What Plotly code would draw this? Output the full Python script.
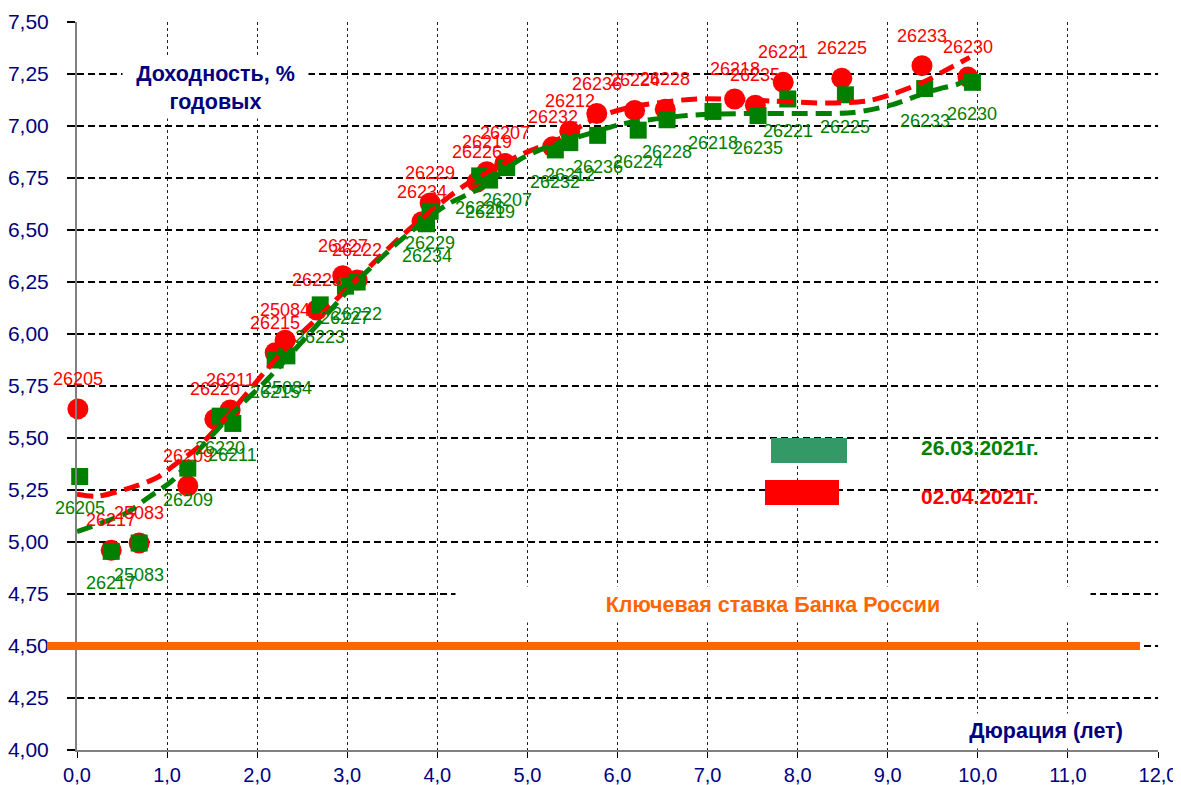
import plotly.graph_objects as go

# ---------------- data ----------------
red_names = ["26205", "26217", "25083", "26209", "26220", "26211", "26215", "25084", "26223",
             "26227", "26222", "26229", "26234", "26226", "26219", "26207", "26232", "26212",
             "26236", "26224", "26228", "26218", "26235", "26221", "26225", "26233", "26230"]
red_x = [0.01, 0.38, 0.69, 1.23, 1.53, 1.70, 2.20, 2.31, 2.66, 2.95, 3.11, 3.92, 3.83, 4.44,
         4.55, 4.75, 5.28, 5.47, 5.77, 6.19, 6.53, 7.30, 7.53, 7.84, 8.49, 9.38, 9.89]
red_y = [5.64, 4.96, 4.995, 5.27, 5.59, 5.635, 5.91, 5.97, 6.115, 6.28, 6.26, 6.63, 6.54, 6.73,
         6.78, 6.82, 6.90, 6.975, 7.06, 7.075, 7.08, 7.13, 7.10, 7.21, 7.23, 7.29, 7.235]

green_names = red_names
green_x = [0.03, 0.38, 0.69, 1.23, 1.59, 1.73, 2.20, 2.33, 2.70, 2.98, 3.11, 3.92, 3.88, 4.47,
           4.58, 4.77, 5.31, 5.47, 5.78, 6.23, 6.55, 7.06, 7.56, 7.89, 8.53, 9.41, 9.94]
green_y = [5.315, 4.955, 4.995, 5.355, 5.605, 5.57, 5.875, 5.895, 6.14, 6.23, 6.25, 6.59, 6.53,
           6.76, 6.74, 6.80, 6.885, 6.92, 6.955, 6.98, 7.03, 7.07, 7.05, 7.13, 7.15, 7.18, 7.21]

# trend lines
red_trend_x = [0.0, 0.22, 0.59, 0.89, 1.11, 1.33, 1.70, 2.25, 2.70, 3.10, 3.60, 4.10, 4.36,
               4.92, 5.36, 5.77, 6.14, 6.88, 7.73, 8.33, 8.77, 9.03, 9.39, 9.61, 9.91]
red_trend_y = [5.23, 5.22, 5.26, 5.31, 5.38, 5.45, 5.62, 5.90, 6.09, 6.26, 6.47, 6.65, 6.73,
               6.86, 6.94, 7.04, 7.09, 7.13, 7.12, 7.11, 7.12, 7.15, 7.21, 7.26, 7.33]
green_trend_x = [0.0, 0.26, 0.55, 0.78, 1.07, 1.37, 1.73, 2.11, 2.70, 3.10, 3.59, 4.10, 4.47,
                 4.92, 5.28, 5.66, 6.06, 6.77, 7.44, 8.06, 8.62, 9.03, 9.39, 9.58, 9.77, 9.90]
green_trend_y = [5.05, 5.09, 5.14, 5.21, 5.30, 5.45, 5.62, 5.78, 6.06, 6.25, 6.45, 6.62, 6.70,
                 6.84, 6.91, 6.96, 7.01, 7.05, 7.06, 7.06, 7.065, 7.10, 7.155, 7.18, 7.20, 7.23]

key_rate = 4.50

green_date = "26.03.2021г."
red_date = "02.04.2021г."
y_title = "Доходность, %<br>годовых"
x_title = "Дюрация (лет)"
key_title = "Ключевая ставка Банка России"

FONT = "Liberation Sans, Arial, sans-serif"
NAVY = "#000080"
RED = "#FF0000"
GREEN = "#008000"
ORANGE = "#FF6600"

# the page puts the figure 8px from the window's top-left corner
OFF = 8
FIG_W, FIG_H = 1181 - OFF, 785 - OFF
# plot-area geometry in window pixels -> paper helpers
L, R, T, B = 77, 1158, 22, 750


def px(xp):
    return (xp - L) / (R - L)


def py(yp):
    return (B - yp) / (B - T)


fig = go.Figure()

fig.add_trace(go.Scatter(x=red_x, y=red_y, mode="markers", cliponaxis=False,
                         marker=dict(symbol="circle", size=21, color=RED)))
fig.add_trace(go.Scatter(x=green_x, y=green_y, mode="markers", cliponaxis=False,
                         marker=dict(symbol="square", size=17, color=GREEN)))
fig.add_trace(go.Scatter(x=red_trend_x, y=red_trend_y, mode="lines",
                         line=dict(color=RED, width=5, dash="16px,8px", shape="spline",
                                   smoothing=0.8)))
fig.add_trace(go.Scatter(x=green_trend_x, y=green_trend_y, mode="lines",
                         line=dict(color=GREEN, width=5, dash="16px,8px", shape="spline",
                                   smoothing=0.8)))

annotations = []
for n, xv, yv in zip(red_names, red_x, red_y):
    annotations.append(dict(x=xv, y=yv, text=n, showarrow=False, yshift=30,
                            font=dict(family=FONT, size=18, color=RED)))
for n, xv, yv in zip(green_names, green_x, green_y):
    annotations.append(dict(x=xv, y=yv, text=n, showarrow=False, yshift=-32,
                            font=dict(family=FONT, size=18, color=GREEN)))

# titles / labels with white backgrounds
annotations.append(dict(xref="paper", yref="paper", x=px(215), y=py(88), text="<b>" + y_title + "</b>",
                        showarrow=False, bgcolor="white", width=185, height=60, borderpad=0,
                        xanchor="center", yanchor="middle",
                        font=dict(family=FONT, size=21.5, color=NAVY)))
annotations.append(dict(xref="paper", yref="paper", x=px(773), y=py(604.5), text="<b>" + key_title + "</b>",
                        showarrow=False, bgcolor="white", width=634, height=35, borderpad=0,
                        xanchor="center", yanchor="middle",
                        font=dict(family=FONT, size=21.5, color=ORANGE)))
annotations.append(dict(xref="paper", yref="paper", x=px(1046), y=py(731), text="<b>" + x_title + "</b>",
                        showarrow=False, bgcolor="white", width=190, height=34, borderpad=0,
                        xanchor="center", yanchor="middle",
                        font=dict(family=FONT, size=21.5, color=NAVY)))
annotations.append(dict(xref="paper", yref="paper", x=px(980), y=py(448), text="<b>" + green_date + "</b>",
                        showarrow=False, xanchor="center", yanchor="middle",
                        font=dict(family=FONT, size=21, color=GREEN)))
annotations.append(dict(xref="paper", yref="paper", x=px(980), y=py(496), text="<b>" + red_date + "</b>",
                        showarrow=False, xanchor="center", yanchor="middle",
                        font=dict(family=FONT, size=21, color=RED)))

shapes = [
    # legend white box
    dict(type="rect", xref="paper", yref="paper", x0=px(860), x1=px(1102), y0=py(518), y1=py(421),
         fillcolor="white", line=dict(width=0), layer="between"),
    dict(type="rect", xref="paper", yref="paper", x0=px(771), x1=px(847), y0=py(463), y1=py(438),
         fillcolor="#339966", line=dict(width=0), layer="above"),
    dict(type="rect", xref="paper", yref="paper", x0=px(765), x1=px(839), y0=py(505), y1=py(480),
         fillcolor=RED, line=dict(width=0), layer="above"),
    # key rate line
    dict(type="line", xref="paper", yref="y", x0=px(47), x1=px(1140), y0=key_rate, y1=key_rate,
         line=dict(color=ORANGE, width=8), layer="above"),
]

fig.update_layout(
    width=FIG_W, height=FIG_H,
    margin=dict(l=L - OFF, r=FIG_W - (R - OFF), t=T - OFF, b=FIG_H - (B - OFF), autoexpand=False),
    paper_bgcolor="white", plot_bgcolor="white",
    showlegend=False,
    separators=", ",
    font=dict(family=FONT, size=20, color=NAVY),
    annotations=annotations,
    shapes=shapes,
    xaxis=dict(range=[0, 12], tick0=0, dtick=1, tickformat=".1f", automargin=False,
               showgrid=True, gridcolor="#222222", griddash="dot", gridwidth=1,
               showline=True, linecolor="#808080", linewidth=2,
               ticks="outside", ticklen=6, tickwidth=1, tickcolor="black",
               zeroline=False, ticklabelstandoff=0,
               tickfont=dict(family=FONT, size=20, color=NAVY)),
    yaxis=dict(range=[4, 7.5], tick0=4, dtick=0.25, tickformat=".2f", automargin=False,
               showgrid=True, gridcolor="black", griddash="7px,4px", gridwidth=2,
               showline=True, linecolor="#808080", linewidth=2,
               ticks="outside", ticklen=8, tickwidth=2, tickcolor="black",
               zeroline=False, ticklabelstandoff=14,
               tickfont=dict(family=FONT, size=21, color=NAVY)),
)

fig.write_html("out.html")
